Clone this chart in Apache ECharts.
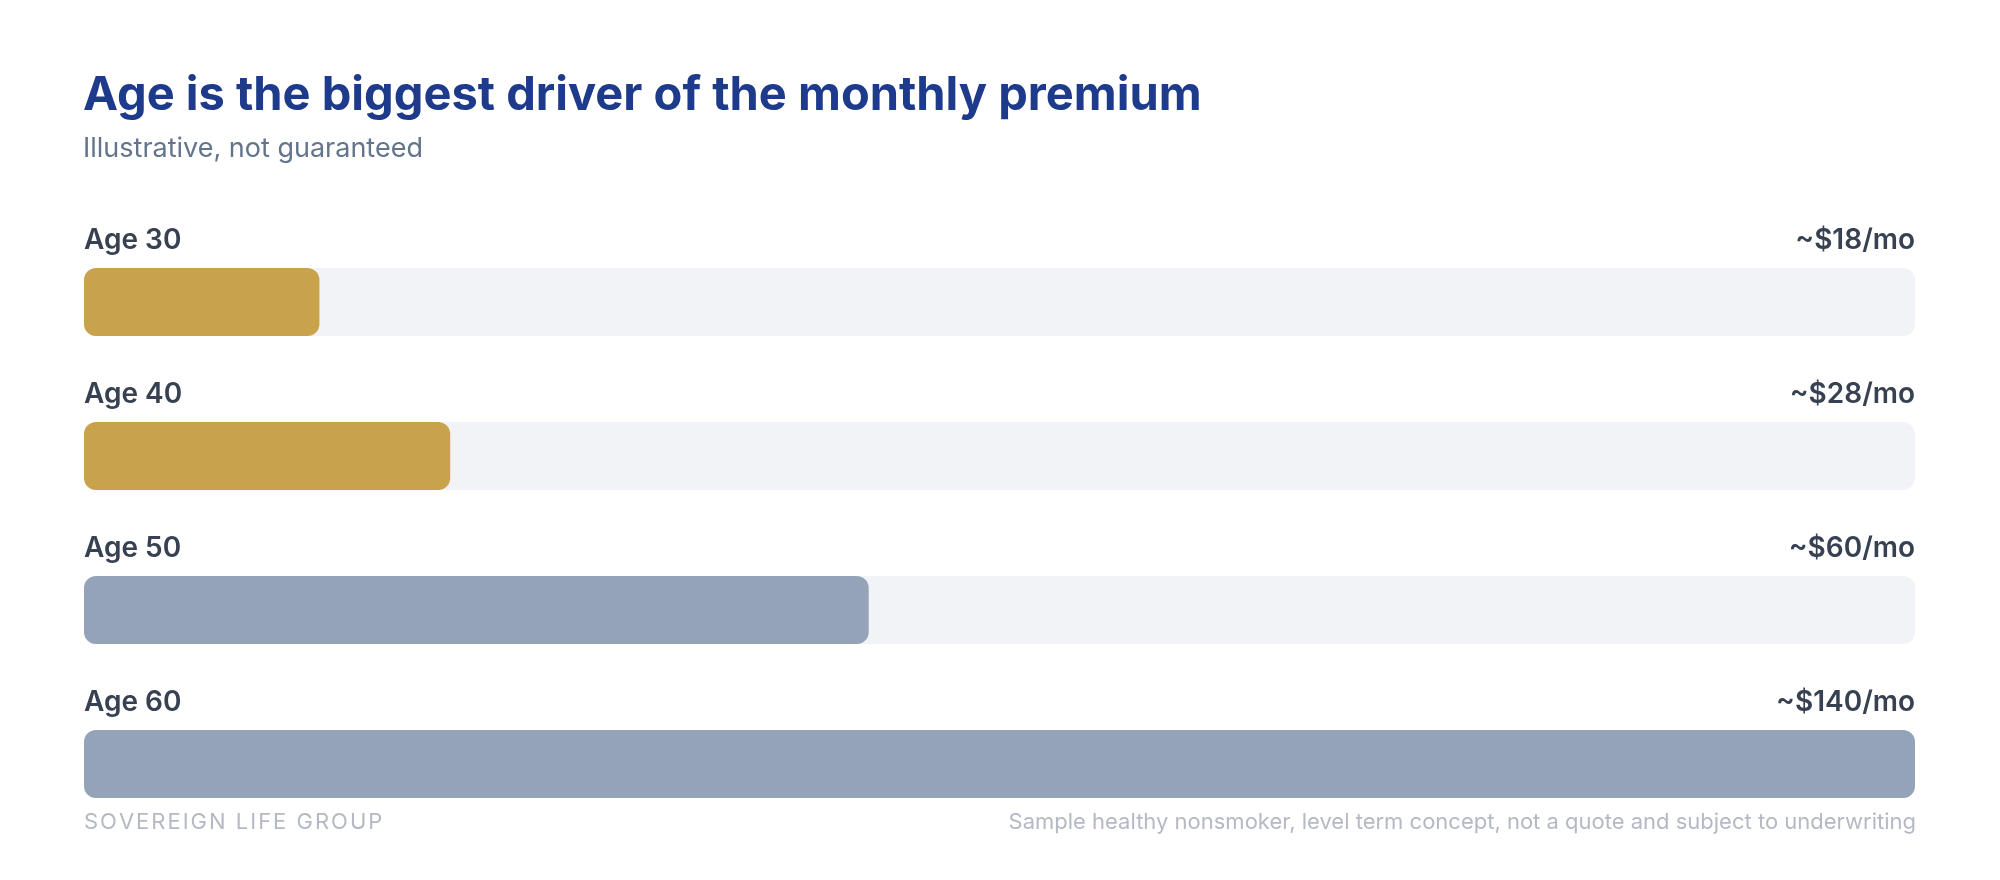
<!DOCTYPE html>
<html>
<head>
<meta charset="utf-8">
<title>Age is the biggest driver of the monthly premium</title>
<script src="https://cdn.jsdelivr.net/npm/echarts@6/dist/echarts.min.js"></script>
<style>
  html, body { margin: 0; padding: 0; background: #ffffff; }
  #chart { width: 2000px; height: 880px; }
</style>
</head>
<body>
<div id="chart"></div>
<script>
// Data
const ages = ['Age 30', 'Age 40', 'Age 50', 'Age 60']
const premiums = [18, 28, 60, 140]
const premiumLabels = ['~$18/mo', '~$28/mo', '~$60/mo', '~$140/mo']

const FONT = 'Inter, "Noto Sans", sans-serif'
const GOLD = '#c9a24c'
const SLATE = '#94a3b8'
const TRACK = '#f1f3f6'

const maxVal = Math.max(...premiums)

// canvas text has no letter-spacing here, so space the brand with hair spaces
const spaced = s => s.split('').join('\u200A')

const chart = echarts.init(document.getElementById('chart'))

const option = {
  animation: false,
  backgroundColor: '#ffffff',
  title: [
    {
      text: 'Age is the biggest driver of the monthly premium',
      subtext: 'Illustrative, not guaranteed',
      left: 78,
      top: 67,
      itemGap: 16,
      textStyle: { fontFamily: FONT, fontSize: 47, fontWeight: 700, color: '#1e3a8a' },
      subtextStyle: { fontFamily: FONT, fontSize: 27, fontWeight: 400, color: '#64748b' }
    },
    {
      text: spaced('SOVEREIGN LIFE GROUP'),
      left: 79,
      top: 806,
      textStyle: { fontFamily: FONT, fontSize: 22, fontWeight: 400, color: '#b4b9c3' }
    },
    {
      text: 'Sample healthy nonsmoker, level term concept, not a quote and subject to underwriting',
      right: 79,
      top: 806,
      textStyle: { fontFamily: FONT, fontSize: 22, fontWeight: 400, color: '#b4b9c3' }
    }
  ],
  grid: { left: 84, right: 85, top: 225, height: 616, containLabel: false },
  xAxis: { type: 'value', min: 0, max: maxVal, show: false },
  yAxis: {
    type: 'category',
    data: ages,
    inverse: true,
    show: false
  },
  series: [
    {
      // track, carries the age label on the left
      type: 'bar',
      data: premiums.map(() => maxVal),
      barWidth: 68,
      barGap: '-100%',
      silent: true,
      itemStyle: { color: TRACK, borderRadius: 12 },
      label: {
        show: true,
        position: [0, -13],
        align: 'left',
        verticalAlign: 'bottom',
        formatter: p => ages[p.dataIndex],
        fontFamily: FONT,
        fontSize: 28,
        fontWeight: 600,
        color: '#374151'
      },
      z: 1
    },
    {
      type: 'bar',
      data: premiums.map((v, i) => ({
        value: v,
        itemStyle: { color: i < 2 ? GOLD : SLATE }
      })),
      barWidth: 68,
      barGap: '-100%',
      itemStyle: { borderRadius: 12 },
      z: 2
    },
    {
      // invisible overlay for the right-aligned price label
      type: 'bar',
      data: premiums.map(() => maxVal),
      barWidth: 68,
      barGap: '-100%',
      silent: true,
      itemStyle: { color: 'rgba(0,0,0,0)' },
      label: {
        show: true,
        position: ['100%', -13],
        align: 'right',
        verticalAlign: 'bottom',
        formatter: p => premiumLabels[p.dataIndex],
        fontFamily: FONT,
        fontSize: 28,
        fontWeight: 600,
        color: '#374151'
      },
      z: 3
    }
  ]
}

chart.setOption(option)
window.addEventListener('resize', () => chart.resize())
</script>
</body>
</html>
